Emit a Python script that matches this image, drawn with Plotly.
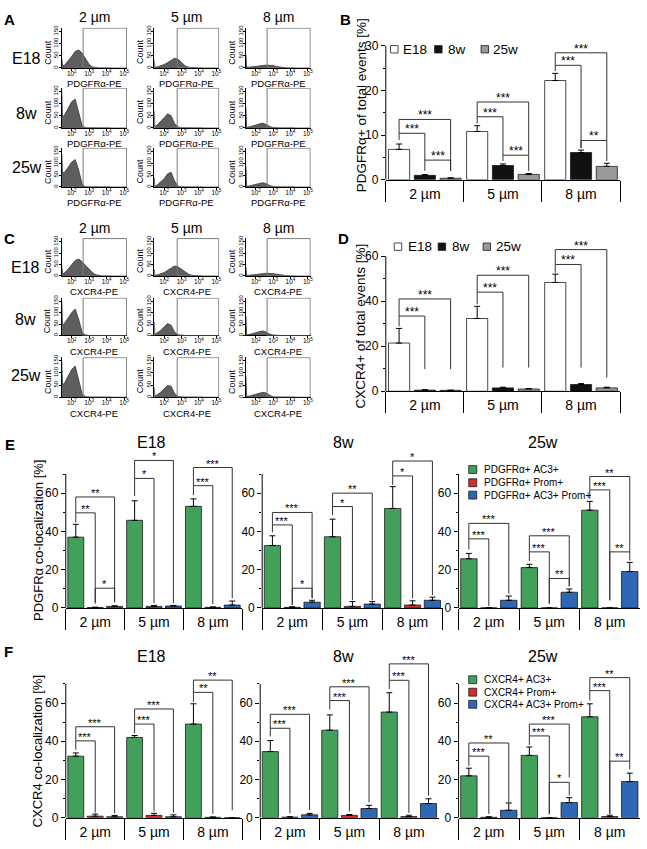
import plotly.graph_objects as go

W, H = 647, 849
FONT = "Liberation Sans, Arial, Helvetica, sans-serif"

# ---------------- data ----------------
SIZES = ["2 µm", "5 µm", "8 µm"]
AGES = ["E18", "8w", "25w"]

# flow cytometry histograms (log10 fluorescence bins, counts)
HIST_LOG_BINS = [1.43, 1.47, 1.6, 1.8, 2.0, 2.2, 2.4, 2.6, 2.8, 3.0, 3.2, 3.4, 3.6, 3.8, 4.0, 4.2]
GATE_LOG_START = [2.65, 2.75, 2.65]
HIST_TICKS = [2, 3, 4, 5]
HIST_TICKTEXT = ["10<sup>2</sup>", "10<sup>3</sup>", "10<sup>4</sup>", "10<sup>5</sup>"]
COUNT_TICKS = [0, 50, 100, 150]

PDGFRA_HIST_E18 = [[40, 8, 12, 28, 48, 68, 74, 60, 35, 14, 4, 1, 0, 0, 0, 0],
                   [30, 3, 4, 8, 14, 22, 32, 40, 36, 22, 9, 3, 1, 0, 0, 0],
                   [55, 4, 3, 4, 6, 8, 10, 12, 12, 10, 6, 3, 1, 0, 0, 0]]
PDGFRA_HIST_8W = [[150, 45, 55, 80, 108, 118, 60, 8, 1, 0, 0, 0, 0, 0, 0, 0],
                  [70, 5, 12, 25, 42, 58, 50, 18, 4, 1, 0, 0, 0, 0, 0, 0],
                  [85, 3, 4, 8, 13, 18, 20, 14, 6, 2, 0, 0, 0, 0, 0, 0]]
PDGFRA_HIST_25W = [[140, 60, 62, 85, 105, 115, 70, 10, 1, 0, 0, 0, 0, 0, 0, 0],
                   [40, 3, 8, 20, 35, 55, 62, 25, 4, 0, 0, 0, 0, 0, 0, 0],
                   [90, 3, 4, 7, 11, 15, 18, 14, 6, 2, 0, 0, 0, 0, 0, 0]]
CXCR4_HIST_E18 = [[45, 8, 15, 30, 50, 68, 74, 62, 45, 28, 14, 5, 1, 0, 0, 0],
                  [30, 3, 4, 8, 15, 25, 36, 44, 40, 30, 18, 8, 3, 1, 0, 0],
                  [40, 3, 3, 4, 6, 8, 10, 12, 12, 10, 8, 5, 3, 1, 0, 0]]
CXCR4_HIST_8W = [[150, 45, 55, 78, 100, 115, 70, 12, 2, 0, 0, 0, 0, 0, 0, 0],
                 [60, 5, 12, 22, 38, 52, 45, 15, 3, 0, 0, 0, 0, 0, 0, 0],
                 [85, 3, 4, 7, 12, 17, 20, 15, 6, 2, 0, 0, 0, 0, 0, 0]]
CXCR4_HIST_25W = [[150, 50, 60, 85, 115, 128, 75, 12, 2, 0, 0, 0, 0, 0, 0, 0],
                  [40, 4, 10, 20, 35, 48, 45, 15, 3, 0, 0, 0, 0, 0, 0, 0],
                  [85, 3, 4, 7, 12, 16, 20, 17, 8, 2, 0, 0, 0, 0, 0, 0]]

# B: PDGFRα+ of total events [%]
PDGFRA_TOTAL = {"E18": [6.8, 10.8, 22.2], "8w": [1.0, 3.2, 6.1], "25w": [0.35, 1.2, 3.0]}
PDGFRA_TOTAL_ERR = {"E18": [1.2, 1.3, 1.6], "8w": [0.15, 0.35, 0.55], "25w": [0.08, 0.2, 0.7]}
# D: CXCR4+ of total events [%]
CXCR4_TOTAL = {"E18": [21.4, 32.3, 48.3], "8w": [0.5, 1.5, 3.0], "25w": [0.4, 1.0, 1.5]}
CXCR4_TOTAL_ERR = {"E18": [6.5, 5.4, 3.7], "8w": [0.2, 0.3, 0.4], "25w": [0.1, 0.2, 0.3]}

# E: PDGFRα co-localization [%]  (AC3+, Prom+, AC3+ Prom+)
PDGFRA_COLOC = {
    "E18": [[37.0, 45.8, 53.1], [0.2, 0.8, 0.3], [0.8, 1.0, 1.5]],
    "8w": [[32.6, 37.2, 52.0], [0.3, 0.8, 1.5], [3.0, 2.0, 4.0]],
    "25w": [[25.7, 21.1, 51.1], [0.0, 0.0, 0.0], [4.0, 8.2, 19.0]],
}
PDGFRA_COLOC_ERR = {
    "E18": [[6.7, 10.2, 3.9], [0.2, 0.5, 0.2], [0.3, 0.3, 2.1]],
    "8w": [[5.1, 9.2, 11.4], [0.3, 2.5, 2.2], [1.0, 1.3, 1.6]],
    "25w": [[2.8, 1.7, 4.6], [0.0, 0.0, 0.0], [2.2, 1.7, 4.8]],
}
# F: CXCR4 co-localization [%]
CXCR4_COLOC = {
    "E18": [[32.2, 42.0, 49.0], [0.8, 1.2, 0.2], [0.5, 0.5, 0.0]],
    "8w": [[34.6, 45.8, 55.3], [0.3, 1.2, 0.6], [1.5, 4.8, 7.4]],
    "25w": [[21.9, 32.6, 52.8], [0.2, 0.0, 0.6], [3.9, 7.9, 18.9]],
}
CXCR4_COLOC_ERR = {
    "E18": [[1.7, 1.0, 10.6], [1.1, 1.1, 0.2], [0.7, 1.0, 0.0]],
    "8w": [[5.8, 8.0, 10.1], [0.2, 0.5, 0.7], [0.8, 1.7, 2.5]],
    "25w": [[4.0, 4.4, 6.8], [0.3, 0.0, 0.7], [3.8, 2.6, 4.4]],
}

# significance brackets: (size group, bar a, bar b, bracket height, left leg end, right leg end, label)
B_BRACKETS = [(0, 0, 1, 10.4, 8.9, 4.4, "***"), (0, 0, 2, 13.5, 10.4, 2.0, "***"), (0, 1, 2, 4.4, 2.0, 2.0, "***"),
              (1, 0, 1, 14.1, 12.6, 5.5, "***"), (1, 0, 2, 17.4, 14.1, 5.5, "***"), (1, 1, 2, 5.5, 4.2, 2.0, "***"),
              (2, 0, 1, 25.6, 24.3, 7.1, "***"), (2, 0, 2, 28.4, 25.6, 8.8, "***"), (2, 1, 2, 8.8, 7.1, 4.2, "**")]
D_BRACKETS = [(0, 0, 1, 33.4, 28.8, 9.8, "***"), (0, 0, 2, 41.0, 33.4, 9.8, "***"),
              (1, 0, 1, 44.0, 38.6, 10.5, "***"), (1, 0, 2, 51.5, 44.0, 10.5, "***"),
              (2, 0, 1, 56.3, 52.6, 10.5, "***"), (2, 0, 2, 62.9, 56.3, 6.1, "***")]
E_BRACKETS = {
    "E18": [(0, 0, 1, 49.7, 44.7, 2.2, "**"), (0, 0, 2, 58.0, 49.7, 3.0, "**"), (0, 1, 2, 10.3, 3.0, 3.0, "*"),
            (1, 0, 1, 67.7, 58.5, 2.5, "*"), (1, 0, 2, 77.1, 67.7, 2.5, "*"),
            (2, 0, 1, 63.9, 59.0, 2.0, "***"), (2, 0, 2, 73.4, 63.9, 5.0, "***")],
    "8w": [(0, 0, 1, 43.4, 39.5, 1.5, "***"), (0, 0, 2, 49.9, 43.4, 5.1, "***"), (0, 1, 2, 10.3, 2.0, 5.1, "*"),
           (1, 0, 1, 53.0, 48.5, 4.0, "*"), (1, 0, 2, 60.0, 53.0, 4.0, "**"),
           (2, 0, 1, 69.0, 64.3, 5.0, "*"), (2, 0, 2, 76.8, 69.0, 6.7, "*")],
    "25w": [(0, 0, 1, 36.1, 30.5, 1.0, "***"), (0, 0, 2, 44.2, 36.1, 7.4, "***"),
            (1, 0, 1, 29.3, 24.5, 2.2, "***"), (1, 0, 2, 37.7, 29.3, 11.3, "***"), (1, 1, 2, 15.4, 2.2, 11.3, "**"),
            (2, 0, 1, 61.7, 57.0, 4.0, "***"), (2, 0, 2, 68.7, 61.7, 29.3, "**"), (2, 1, 2, 29.3, 4.0, 24.8, "**")],
}
F_BRACKETS = {
    "E18": [(0, 0, 1, 40.2, 35.5, 2.6, "***"), (0, 0, 2, 47.6, 40.2, 2.3, "***"),
            (1, 0, 1, 49.0, 44.2, 3.3, "***"), (1, 0, 2, 56.9, 49.0, 2.6, "***"),
            (2, 0, 1, 65.6, 60.5, 2.0, "**"), (2, 0, 2, 72.0, 65.6, 3.9, "**")],
    "8w": [(0, 0, 1, 46.8, 42.5, 2.3, "***"), (0, 0, 2, 54.1, 46.8, 4.0, "***"),
           (1, 0, 1, 61.3, 56.6, 3.3, "***"), (1, 0, 2, 68.5, 61.3, 8.0, "***"),
           (2, 0, 1, 71.9, 67.3, 2.5, "***"), (2, 0, 2, 80.5, 71.9, 11.6, "***")],
    "25w": [(0, 0, 1, 32.2, 27.0, 2.0, "***"), (0, 0, 2, 39.1, 32.2, 8.0, "**"),
            (1, 0, 1, 42.8, 38.1, 2.0, "***"), (1, 0, 2, 49.0, 42.8, 21.0, "***"), (1, 1, 2, 18.5, 1.7, 11.6, "*"),
            (2, 0, 1, 66.5, 61.3, 2.0, "***"), (2, 0, 2, 73.3, 66.5, 29.6, "**"), (2, 1, 2, 29.6, 2.0, 25.3, "**")],
}

PDGFRA_COLOC_NAMES = ["PDGFRα+ AC3+", "PDGFRα+ Prom+", "PDGFRα+ AC3+ Prom+"]
CXCR4_COLOC_NAMES = ["CXCR4+ AC3+", "CXCR4+ Prom+", "CXCR4+ AC3+ Prom+"]

# ---------------- styles / geometry ----------------
AGE_COLORS = ["#ffffff", "#111111", "#9a9a9a"]
COLOC_COLORS = ["#43a05a", "#d42b2b", "#2e67b5"]
HIST_FILL = "#5e5e5e"
BARGAP = 0.01
BARGROUPGAP = 0.18
SLOT = (1 - BARGAP) / 3

HIST_COLS_PX = [(62, 127.5), (154.7, 220), (246.7, 311.7)]
A_ROWS_PX = [(21, 62), (82, 123), (143, 183)]
C_ROWS_PX = [(235, 273.5), (295.5, 334), (356, 396.7)]


def P(px, py):
    return px / W, 1 - py / H


fig = go.Figure()
layout = dict(width=W, height=H, margin=dict(l=0, r=0, t=0, b=0),
              paper_bgcolor="white", plot_bgcolor="rgba(0,0,0,0)",
              showlegend=False, font=dict(family=FONT, color="black"),
              bargap=BARGAP, bargroupgap=BARGROUPGAP, barmode="group")
shapes = []
annotations = []


def names(k):
    s = "" if k == 1 else str(k)
    return "x" + s, "y" + s, "xaxis" + s, "yaxis" + s


def text(px, py, s, size, **kw):
    x, y = P(px, py)
    d = dict(x=x, y=y, xref="paper", yref="paper", text=s, showarrow=False,
             font=dict(size=size, family=FONT, color="black"), xanchor="center", yanchor="middle")
    d.update(kw)
    annotations.append(d)


def add_hist(k, col, row_px, counts, label):
    xr, yr, xa, ya = names(k)
    x0, x1 = HIST_COLS_PX[col]
    top, bot = row_px
    common = dict(showline=True, linecolor="black", linewidth=1, ticks="outside", ticklen=2,
                  tickcolor="black", showgrid=False, zeroline=False, fixedrange=True)
    layout[xa] = dict(domain=[x0 / W, x1 / W], anchor=yr, range=[1.43, 5.17],
                      tickvals=HIST_TICKS, ticktext=HIST_TICKTEXT, tickfont=dict(size=6.5),
                      ticklabelstandoff=-3, **common)
    layout[ya] = dict(domain=[1 - bot / H, 1 - top / H], anchor=xr, range=[0, 165],
                      tickvals=COUNT_TICKS, tickangle=-90, tickfont=dict(size=6),
                      ticklabelstandoff=-2, **common)
    fig.add_trace(go.Scatter(x=HIST_LOG_BINS, y=counts, xaxis=xr, yaxis=yr, mode="lines",
                             fill="tozeroy", fillcolor=HIST_FILL, line=dict(color="#3a3a3a", width=0.8),
                             hoverinfo="skip"))
    shapes.append(dict(type="rect", xref=xr, yref=yr, x0=GATE_LOG_START[col], x1=5.14, y0=0, y1=163,
                       line=dict(color="#7a7a7a", width=1), layer="above"))
    annotations.append(dict(xref=xr + " domain", yref=yr + " domain", x=0.5, y=0, yshift=-16,
                            yanchor="middle", text=label, showarrow=False, font=dict(size=9.5, family=FONT)))
    annotations.append(dict(xref=xr + " domain", yref=yr + " domain", x=0, y=0.4, xshift=-14,
                            xanchor="center", text="Count", textangle=-90, showarrow=False,
                            font=dict(size=9, family=FONT)))


def add_bar_panel(k, x_px, zero_py, ppu, ymax, axis_top, series, brackets, major, minor,
                  star_size, ytickfont=12):
    xr, yr, xa, ya = names(k)
    top_py = zero_py - ymax * ppu
    layout[xa] = dict(domain=[x_px[0] / W, x_px[1] / W], anchor=yr, type="category",
                      showline=True, linecolor="black", linewidth=1, ticks="outside",
                      tickson="boundaries", ticklen=21, tickcolor="black", tickwidth=1,
                      ticklabelstandoff=1, tickfont=dict(size=14), showgrid=False,
                      zeroline=False, fixedrange=True)
    layout[ya] = dict(domain=[1 - zero_py / H, 1 - top_py / H], anchor=xr, range=[0, ymax],
                      showline=False, ticks="outside", ticklen=4, tickcolor="black",
                      tickvals=major, tickfont=dict(size=ytickfont), showgrid=False, zeroline=False,
                      minor=dict(tickvals=minor, ticks="outside", ticklen=2, tickcolor="black"),
                      fixedrange=True)
    # y axis line up to the top of the scale
    shapes.append(dict(type="line", xref=xr + " domain", yref=yr, x0=0, x1=0, y0=0, y1=axis_top,
                       line=dict(color="black", width=1)))
    for name, vals, errs, color in series:
        fig.add_trace(go.Bar(x=SIZES, y=vals, name=name, xaxis=xr, yaxis=yr,
                             marker=dict(color=color, line=dict(color="#1a1a1a", width=0.8)),
                             error_y=dict(type="data", array=errs, arrayminus=[0] * len(errs),
                                          symmetric=False, color="black", thickness=1, width=3),
                             hoverinfo="skip"))
    for g, a, b, h, yl, yrr, lab in brackets:
        xa_ = g + (a - 1) * SLOT
        xb_ = g + (b - 1) * SLOT
        ln = dict(color="#333333", width=1)
        shapes.append(dict(type="line", xref=xr, yref=yr, x0=xa_, x1=xa_, y0=yl, y1=h, line=ln))
        shapes.append(dict(type="line", xref=xr, yref=yr, x0=xa_, x1=xb_, y0=h, y1=h, line=ln))
        shapes.append(dict(type="line", xref=xr, yref=yr, x0=xb_, x1=xb_, y0=yrr, y1=h, line=ln))
        annotations.append(dict(xref=xr, yref=yr, x=(xa_ + xb_) / 2, y=h, text=lab, showarrow=False,
                                yanchor="middle", yshift=4, font=dict(size=star_size, family=FONT)))


k = 0
# ---------------- A & C histograms ----------------
for rows_px, hists, lab in [(A_ROWS_PX, [PDGFRA_HIST_E18, PDGFRA_HIST_8W, PDGFRA_HIST_25W], "PDGFRα-PE"),
                            (C_ROWS_PX, [CXCR4_HIST_E18, CXCR4_HIST_8W, CXCR4_HIST_25W], "CXCR4-PE")]:
    for r in range(3):
        for c in range(3):
            k += 1
            add_hist(k, c, rows_px[r], hists[r][c], lab)

for py in (10, 225):
    for c, s in enumerate(SIZES):
        text((HIST_COLS_PX[c][0] + HIST_COLS_PX[c][1]) / 2, py, s, 14)
for r, py in enumerate([52, 108, 163]):
    text(27, py, AGES[r], 16)
for r, py in enumerate([265, 318, 375]):
    text(26, py, AGES[r], 16)

# ---------------- B ----------------
k += 1
add_bar_panel(k, (387, 622), 175.7, 4.547, 30, 30,
              [(a, PDGFRA_TOTAL[a], PDGFRA_TOTAL_ERR[a], AGE_COLORS[i]) for i, a in enumerate(AGES)],
              B_BRACKETS, [0, 10, 20, 30], [5, 15, 25], 12)
# ---------------- D ----------------
k += 1
add_bar_panel(k, (387, 622), 390.7, 2.29, 68, 60,
              [(a, CXCR4_TOTAL[a], CXCR4_TOTAL_ERR[a], AGE_COLORS[i]) for i, a in enumerate(AGES)],
              D_BRACKETS, [0, 20, 40, 60], [10, 30, 50], 12)

# ---------------- E & F ----------------
E_X = {"E18": (66, 243), "8w": (263, 444), "25w": (460, 642)}
F_X = {"E18": (66, 243), "8w": (261, 440), "25w": (460, 642)}
for age in AGES:
    k += 1
    add_bar_panel(k, E_X[age], 611, 1.945, 85, 70,
                  [(PDGFRA_COLOC_NAMES[i], PDGFRA_COLOC[age][i], PDGFRA_COLOC_ERR[age][i], COLOC_COLORS[i])
                   for i in range(3)],
                  E_BRACKETS[age], [0, 20, 40, 60], [10, 30, 50, 70], 11)
for age in AGES:
    k += 1
    add_bar_panel(k, F_X[age], 824.3, 1.943, 85, 70,
                  [(CXCR4_COLOC_NAMES[i], CXCR4_COLOC[age][i], CXCR4_COLOC_ERR[age][i], COLOC_COLORS[i])
                   for i in range(3)],
                  F_BRACKETS[age], [0, 20, 40, 60], [10, 30, 50, 70], 11)

for age, px in zip(AGES, [152, 345, 545]):
    text(px, 443, age, 16)
    text(px, 660, age, 16)

# ---------------- panel letters & titles ----------------
for s, px, py in [("A", 10, 13), ("B", 347, 13), ("C", 10, 235), ("D", 345, 235), ("E", 10, 445), ("F", 9, 655)]:
    text(px, py, "<b>" + s + "</b>", 15)

text(362, 100, "PDGFRα+ of total events [%]", 13.5, textangle=-90)
text(362, 324, "CXCR4+ of total events [%]", 13.5, textangle=-90)
text(38, 542, "PDGFRα co-localization [%]", 13, textangle=-90)
text(38, 757, "CXCR4 co-localization [%]", 13, textangle=-90)


# ---------------- legends ----------------
def swatch(cx, cy, color, size=7.5):
    x0, y0 = P(cx - size / 2, cy + size / 2)
    x1, y1 = P(cx + size / 2, cy - size / 2)
    shapes.append(dict(type="rect", xref="paper", yref="paper", x0=x0, x1=x1, y0=y0, y1=y1,
                       fillcolor=color, line=dict(color="#1a1a1a", width=0.8)))


for cy, sx, tx in [(43, [395.5, 439.7, 486.3], [402, 447, 493]), (243.7, [399.2, 443.3, 488.3], [407, 451, 496])]:
    for i, a in enumerate(AGES):
        swatch(sx[i], cy, AGE_COLORS[i])
        text(tx[i], cy, a, 13.5, xanchor="left")

for ys, labels in [([470.3, 483.7, 496.3], PDGFRA_COLOC_NAMES), ([684, 696.7, 709], CXCR4_COLOC_NAMES)]:
    for i in range(3):
        swatch(474.2, ys[i], COLOC_COLORS[i], 8)
        text(483.5, ys[i], labels[i], 10, xanchor="left")

layout["shapes"] = shapes
layout["annotations"] = annotations
fig.update_layout(**layout)
fig.write_html("out.html", config={"displayModeBar": False, "staticPlot": True},
               post_script="document.body.style.margin='0';document.body.style.overflow='hidden';")
